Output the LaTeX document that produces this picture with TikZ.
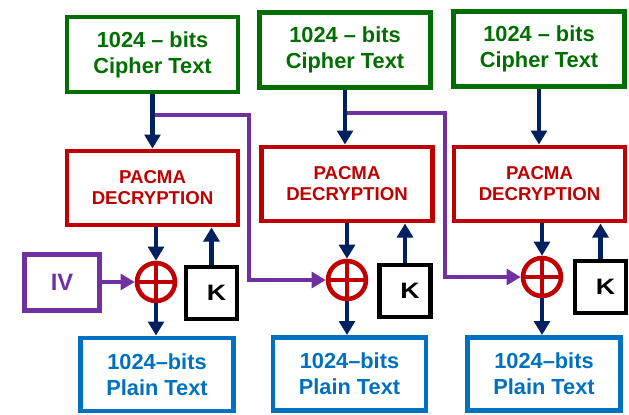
\documentclass[tikz,border=0pt]{standalone}
\usepackage{fontspec}
\setmainfont{Liberation Sans}
\usetikzlibrary{arrows.meta}

\definecolor{cgreen}{RGB}{0,110,0}
\definecolor{cred}{RGB}{192,0,0}
\definecolor{cblue}{RGB}{0,112,192}
\definecolor{cpurple}{RGB}{112,48,160}
\definecolor{cnavy}{RGB}{0,32,96}

\tikzset{
  box/.style={draw, line width=2.8pt, align=center, inner sep=0pt,
    font=\bfseries\fontsize{12.4}{14.7}\selectfont},
  cipher/.style={box, draw=cgreen, text=cgreen, minimum width=3.42cm, minimum height=1.5cm},
  decrypt/.style={box, draw=cred, text=cred, minimum width=3.42cm, minimum height=1.48cm,
    font=\bfseries\fontsize{10.6}{11.9}\selectfont},
  plain/.style={box, draw=cblue, text=cblue, minimum width=3.06cm, minimum height=1.46cm},
  keybox/.style={box, draw=black, minimum width=1.02cm, minimum height=1.04cm,
    font=\bfseries\fontsize{12.7}{14}\selectfont},
  ivbox/.style={box, draw=cpurple, text=cpurple, minimum width=1.5cm, minimum height=1.12cm,
    font=\bfseries\fontsize{13.5}{15}\selectfont},
  xor/.style={circle, draw=cred, line width=2.6pt, minimum size=0.76cm, inner sep=0pt,
    path picture={\draw[cred, line width=2.6pt]
      (path picture bounding box.north) -- (path picture bounding box.south)
      (path picture bounding box.west) -- (path picture bounding box.east);}},
  flow/.style={cnavy, line width=2.8pt, -{Triangle[length=8pt,width=9pt]}},
  feed/.style={cpurple, line width=2.8pt, -{Triangle[length=8pt,width=9pt]}},
}

\begin{document}
\begin{tikzpicture}[x=0.02cm, y=-0.02cm]
    \useasboundingbox (0,0) rectangle (629,414);

    % cipher text blocks
    \node[cipher] (c1) at (152.5,54.5) {1024 -- bits\\Cipher Text};
    \node[cipher] (c2) at (345,50) {1024 -- bits\\Cipher Text};
    \node[cipher] (c3) at (539,49) {1024 -- bits\\Cipher Text};

    % decryption blocks
    \node[decrypt] (d1) at (152.5,188) {PACMA\\DECRYPTION};
    \node[decrypt] (d2) at (347,184) {PACMA\\DECRYPTION};
    \node[decrypt] (d3) at (539.5,184) {PACMA\\DECRYPTION};

    % xor gates and keys
    \node[xor] (x1) at (156,282) {};
    \node[xor] (x2) at (347,280) {};
    \node[xor] (x3) at (542,277) {};
    \node[keybox] (k1) at (211.5,293) {\hspace*{0.2cm}\scalebox{1.2}[1]{K}};
    \node[keybox] (k2) at (405,291) {\hspace*{0.2cm}\scalebox{1.2}[1]{K}};
    \node[keybox] (k3) at (600.5,287) {\hspace*{0.2cm}\scalebox{1.2}[1]{K}};
    \node[ivbox] (iv) at (62,282.5) {IV};

    % plain text blocks
    \node[plain] (p1) at (157,374.5) {1024--bits\\Plain Text};
    \node[plain] (p2) at (349.5,374) {1024--bits\\Plain Text};
    \node[plain] (p3) at (544,374) {1024--bits\\Plain Text};

    % chaining lines
    \coordinate (t1) at (249,115);
    \coordinate (t2) at (445,113);
    \draw[feed] (iv.east |- x1) -- (x1);
    \draw[feed] (c1.south |- t1) -- (t1) |- (x2);
    \draw[feed] (c2.south |- t2) -- (t2) |- (x3);

    \foreach \i in {1,2,3}
        {\draw[flow] (c\i.south) -- (c\i.south |- d\i.north);
         \draw[flow] (x\i |- d\i.south) -- (x\i);
         \draw[flow] (k\i.north) -- (k\i.north |- d\i.south);
         \draw[flow] (x\i) -- (x\i |- p\i.north);
        }
\end{tikzpicture}
\end{document}
